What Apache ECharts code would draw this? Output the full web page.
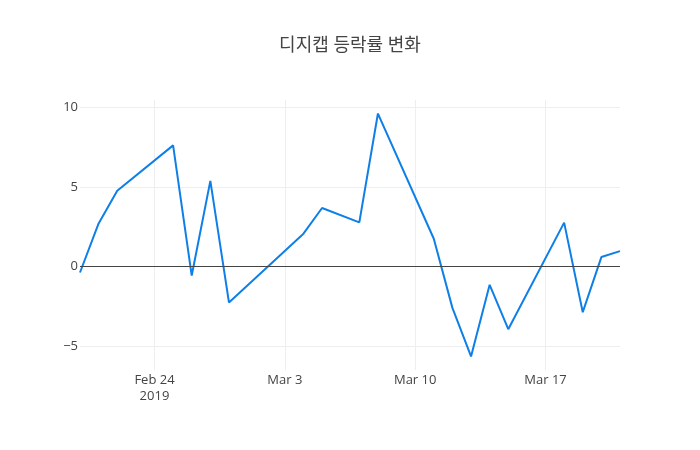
<!DOCTYPE html>
<html><head><meta charset="utf-8">
<script src="https://cdn.jsdelivr.net/npm/echarts@6/dist/echarts.min.js"></script>
<style>html,body{margin:0;padding:0;background:#fff}#c{width:700px;height:450px}</style>
</head><body><div id="c"></div>
<script>
var dates = ['2019-02-20','2019-02-21','2019-02-22','2019-02-25','2019-02-26','2019-02-27','2019-02-28','2019-03-04','2019-03-05','2019-03-07','2019-03-08','2019-03-11','2019-03-12','2019-03-13','2019-03-14','2019-03-15','2019-03-18','2019-03-19','2019-03-20','2019-03-21'];
var values = [-0.38, 2.7, 4.75, 7.6, -0.57, 5.37, -2.26, 2.06, 3.67, 2.77, 9.6, 1.74, -2.6, -5.65, -1.15, -3.94, 2.75, -2.87, 0.59, 0.96];
var xTicks = ['2019-02-24','2019-03-03','2019-03-10','2019-03-17'];
var xTickLabels = ['Feb 24\n2019','Mar 3','Mar 10','Mar 17'];
var yTicks = [-5, 0, 5, 10];
var title = '디지캡 등락률 변화';

var DAY = 86400000;
var base = Date.UTC(2019, 1, 20);
function dayOf(s){ var p = s.split('-'); return Math.round((Date.UTC(+p[0], +p[1]-1, +p[2]) - base) / DAY); }
var xTickDays = xTicks.map(dayOf);
var font = '"Open Sans", "Noto Sans CJK KR", sans-serif';
var chart = echarts.init(document.getElementById('c'));
chart.setOption({
  animation: false,
  title: {text: title, left: 'center', top: 32, textStyle: {fontFamily: font, fontSize: 18, fontWeight: 'normal', color: '#444'}},
  grid: {left: 80, right: 80, top: 100, bottom: 80, containLabel: false},
  xAxis: {
    type: 'value',
    min: dayOf('2019-02-20'),
    max: dayOf('2019-03-21'),
    axisLine: {show: false},
    axisTick: {show: false, customValues: xTickDays},
    axisLabel: {
      customValues: xTickDays,
      color: '#444', fontFamily: font, fontSize: 13, margin: 2, lineHeight: 16,
      formatter: function(v){ var i = xTickDays.indexOf(Math.round(v)); return i >= 0 ? xTickLabels[i] : ''; }
    },
    splitLine: {show: true, lineStyle: {color: '#eee', width: 1}}
  },
  yAxis: {
    type: 'value', min: -6.5, max: 10.45,
    axisLine: {show: false},
    axisTick: {show: false, customValues: yTicks},
    axisLabel: {
      customValues: yTicks, color: '#444', fontFamily: font, fontSize: 13, margin: 2,
      formatter: function(v){ return v < 0 ? '\u2212' + Math.abs(v) : String(v); }
    },
    splitLine: {show: true, lineStyle: {color: '#eee', width: 1}}
  },
  series: [{
    type: 'line',
    data: dates.map(function(d, i){ return [dayOf(d), values[i]]; }),
    showSymbol: false,
    lineStyle: {color: '#0f7fe8', width: 2},
    itemStyle: {color: '#0f7fe8'},
    markLine: {
      silent: true, symbol: 'none', label: {show: false},
      lineStyle: {color: '#444', width: 1, type: 'solid'},
      data: [{yAxis: 0}]
    },
    z: 3
  }]
});
</script></body></html>
